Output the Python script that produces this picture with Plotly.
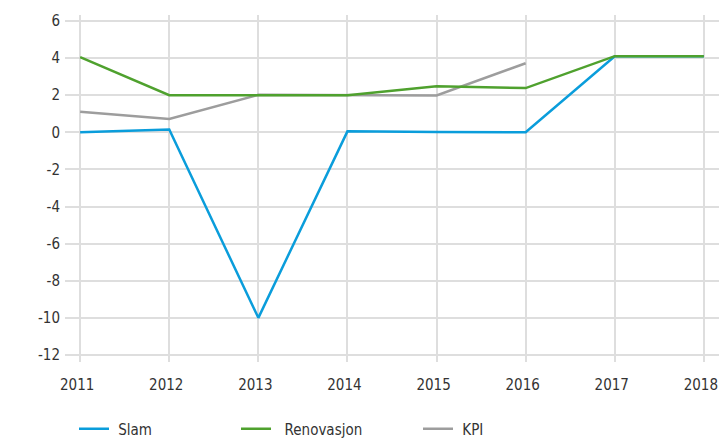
import plotly.graph_objects as go

years = [2011, 2012, 2013, 2014, 2015, 2016, 2017, 2018]
slam = [0.0, 0.15, -10.0, 0.05, 0.02, 0.0, 4.1, 4.1]
renovasjon = [4.05, 2.0, 2.0, 2.0, 2.48, 2.38, 4.1, 4.1]
kpi_years = [2011, 2012, 2013, 2014, 2015, 2016]
kpi = [1.11, 0.72, 2.02, 2.0, 1.98, 3.72]
y_ticks = [6, 4, 2, 0, -2, -4, -6, -8, -10, -12]
y_ticktext = [str(v) for v in y_ticks]

FONT = "DejaVu Sans Condensed, DejaVu Sans, sans-serif"
FS = 15
W, H = 719, 440
L, R, T, B = 65, 0, 15, 78
PW, PH = W - L - R, H - T - B
GAP = "\u00a0"

fig = go.Figure()
fig.add_trace(go.Scatter(x=years, y=slam, name=GAP + "Slam", mode="lines",
                         line=dict(color="#0a9ddb", width=2.5), legend="legend"))
fig.add_trace(go.Scatter(x=kpi_years, y=kpi, name=GAP + "KPI", mode="lines",
                         line=dict(color="#9d9d9d", width=2.5), legend="legend3"))
fig.add_trace(go.Scatter(x=years, y=renovasjon, name=GAP + GAP + "Renovasjon", mode="lines",
                         line=dict(color="#4fa12e", width=2.5), legend="legend2"))

leg_y = -(429 - (H - B)) / PH


def leg(px, ew):
    return dict(orientation="h", x=(px - L) / PW, y=leg_y, xanchor="left", yanchor="middle",
                font=dict(size=FS, color="#333333", family=FONT),
                bgcolor="rgba(0,0,0,0)", itemwidth=30, entrywidth=ew)


fig.update_layout(
    width=W, height=H,
    showlegend=True,
    margin=dict(l=L, r=R, t=T, b=B, autoexpand=False),
    paper_bgcolor="white", plot_bgcolor="white",
    font=dict(family=FONT, size=FS, color="#333333"),
    xaxis=dict(range=[2010.83, 2018.17], tickvals=years, ticktext=[str(y) for y in years],
               showgrid=True, gridcolor="#dedede", gridwidth=1.5, zeroline=False,
               showline=False, ticks="", ticklabelstandoff=12, automargin=False,
               ticklabeloverflow="allow", ticklabelshift=-3,
               tickfont=dict(size=FS, color="#333333", family=FONT)),
    yaxis=dict(range=[-12.38, 6.32], tickvals=y_ticks, ticktext=y_ticktext,
               showgrid=True, gridcolor="#dedede", gridwidth=1.5, zeroline=False,
               showline=False, ticks="", ticklabelstandoff=4, automargin=False,
               tickfont=dict(size=FS, color="#333333", family=FONT)),
    legend=leg(74, 140),
    legend2=leg(236, 160),
    legend3=leg(418, 100),
)

fig.write_html("out.html", config={"displayModeBar": False},
               post_script="document.body.style.margin='0';document.body.style.overflow='hidden';")
